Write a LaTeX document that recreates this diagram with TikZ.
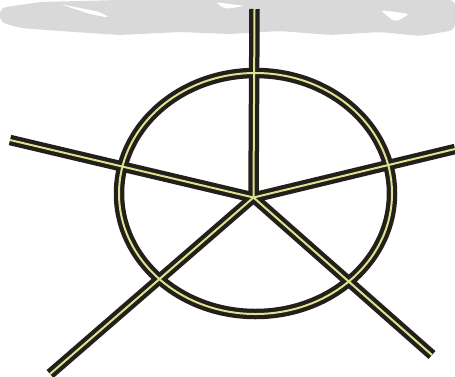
\documentclass[tikz,border=0pt]{standalone}
\definecolor{wire}{HTML}{231F1A}
\definecolor{core}{HTML}{DDE28E}
\definecolor{wm}{HTML}{D9D9D9}
\begin{document}
\begin{tikzpicture}[x=1pt,y=-1pt,
  outer/.style={draw=wire,line width=10.5pt,line cap=butt},
  inner/.style={draw=core,line width=2pt,line cap=butt}]
\useasboundingbox (0,0) rectangle (455,376);
% blurred watermark band
\fill[wm,rounded corners=6pt] (0,8) -- (40,2) -- (120,0) -- (200,0) -- (240,0) -- (455,0) -- (455,30) -- (420,36) -- (380,32) -- (330,35) -- (280,31) -- (230,34) -- (180,32) -- (120,35) -- (60,31) -- (20,28) -- (0,22) -- cycle;
\fill[white,rounded corners=4pt] (60,4) -- (100,12) -- (110,18) -- (90,14) -- cycle;
\fill[white,rounded corners=4pt] (215,2) -- (245,6) -- (225,9) -- cycle;
\fill[white,rounded corners=4pt] (380,10) -- (410,14) -- (395,22) -- cycle;
% geometry
\coordinate (c) at (253.5,197.5);
\coordinate (t) at (254.5,9);
\coordinate (l) at (10,140);
\coordinate (r) at (455,149);
\coordinate (bl) at (50,374);
\coordinate (br) at (432,355);
\coordinate (o) at (255.5,193.5);
% black casings
\draw[outer] (o) ellipse [x radius=136.5,y radius=120.5];
\draw[outer] (c) -- (t);
\draw[outer] (c) -- (l);
\draw[outer] (c) -- (r);
\draw[outer] (c) -- (bl);
\draw[outer] (c) -- (br);
% yellow cores
\draw[inner] (o) ellipse [x radius=136.5,y radius=120.5];
\draw[inner] (c) -- (t);
\draw[inner] (c) -- (l);
\draw[inner] (c) -- (r);
\draw[inner] (c) -- (bl);
\draw[inner] (c) -- (br);
\end{tikzpicture}
\end{document}
